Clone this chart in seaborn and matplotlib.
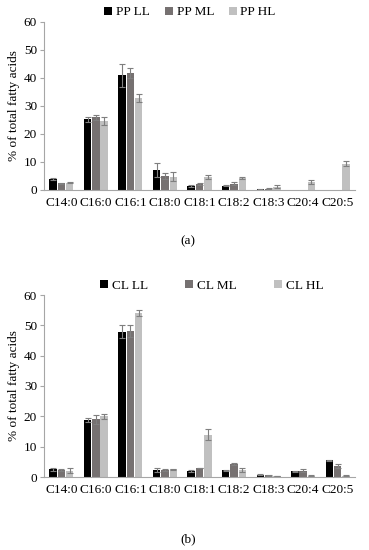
import pandas as pd
import numpy as np
import matplotlib
matplotlib.use('Agg')
import matplotlib.pyplot as plt
import seaborn as sns

# Yağ turşuları
acids = ['C14:0', 'C16:0', 'C16:1', 'C18:0', 'C18:1', 'C18:2', 'C18:3', 'C20:4', 'C20:5']

# (a) PP
pp_groups = ['PP LL', 'PP ML', 'PP HL']
pp_ll = [3.9, 25.2, 40.9, 7.2, 1.4, 1.6, 0.2, 0.0, 0.0]
pp_ml = [2.4, 25.9, 41.7, 5.1, 2.2, 2.3, 0.5, 0.0, 0.0]
pp_hl = [2.6, 24.7, 32.9, 4.8, 4.6, 4.3, 1.2, 2.9, 9.3]
pp_ll_err = [0.5, 0.8, 4.0, 2.5, 0.3, 0.3, 0.05, 0.0, 0.0]
pp_ml_err = [0.2, 0.8, 1.8, 1.0, 0.3, 0.6, 0.1, 0.0, 0.0]
pp_hl_err = [0.2, 1.5, 1.4, 1.6, 0.8, 0.3, 0.5, 0.7, 0.9]

# (b) CL
cl_groups = ['CL LL', 'CL ML', 'CL HL']
cl_ll = [2.5, 18.9, 47.9, 2.2, 2.0, 2.2, 0.8, 1.9, 5.5]
cl_ml = [2.3, 19.0, 48.0, 2.3, 3.0, 4.3, 0.6, 2.1, 3.6]
cl_hl = [2.1, 20.0, 54.0, 2.5, 14.0, 2.3, 0.3, 0.4, 0.4]
cl_ll_err = [0.4, 0.7, 2.1, 0.7, 0.2, 0.2, 0.1, 0.1, 0.2]
cl_ml_err = [0.2, 1.4, 2.0, 0.2, 0.1, 0.3, 0.2, 0.6, 0.6]
cl_hl_err = [0.8, 0.8, 1.0, 0.2, 1.8, 0.6, 0.05, 0.1, 0.1]

colors = ['#000000', '#767171', '#c0c0c0']

plt.rcParams['font.family'] = ['Liberation Serif', 'DejaVu Serif']
fs = 9.5


def long_df(groups, series):
    rows = []
    for g, vals in zip(groups, series):
        for a, v in zip(acids, vals):
            rows.append({'acid': a, 'group': g, 'value': v})
    return pd.DataFrame(rows)


def draw_panel(ax, groups, series, errors, colspacing, anchor_x):
    df = long_df(groups, series)
    sns.barplot(data=df, x='acid', y='value', hue='group', palette=colors,
                errorbar=None, width=0.72, gap=0.1, ax=ax, saturation=1)
    # Xəta xətləri
    for cont, errs in zip(ax.containers, errors):
        for bar, e in zip(cont, errs):
            if e <= 0:
                continue
            xc = bar.get_x() + bar.get_width() / 2
            ax.errorbar(xc, bar.get_height(), yerr=e, fmt='none',
                        ecolor='#7f7f7f', elinewidth=0.8, capsize=2, capthick=0.8)
    ax.set_ylim(0, 60)
    ax.set_yticks(range(0, 61, 10))
    ax.set_xlim(-0.5, 8.5)
    ax.set_xlabel('')
    ax.set_ylabel('% of total fatty acids', fontsize=fs, labelpad=3)
    ax.tick_params(axis='x', length=0, labelsize=fs, pad=5)
    ax.tick_params(axis='y', length=3, labelsize=fs, color='#a6a6a6', pad=2)
    for s in ['top', 'right']:
        ax.spines[s].set_visible(False)
    for s in ['left', 'bottom']:
        ax.spines[s].set_color('#a6a6a6')
        ax.spines[s].set_linewidth(0.8)
    ax.legend(loc='lower center', bbox_to_anchor=(anchor_x, 0.99), ncol=3, frameon=False,
              fontsize=fs, handlelength=0.6, handleheight=0.6, handletextpad=0.3,
              columnspacing=colspacing, borderaxespad=0)


fig = plt.figure(figsize=(3.69, 5.5), dpi=100)
ax1 = fig.add_axes([44 / 369, (550 - 190) / 550, 311 / 369, 168 / 550])
ax2 = fig.add_axes([44 / 369, (550 - 477) / 550, 311 / 369, 182 / 550])

draw_panel(ax1, pp_groups, [pp_ll, pp_ml, pp_hl], [pp_ll_err, pp_ml_err, pp_hl_err], 1.1, 0.47)
draw_panel(ax2, cl_groups, [cl_ll, cl_ml, cl_hl], [cl_ll_err, cl_ml_err, cl_hl_err], 2.8, 0.54)

fig.text(188 / 369, 1 - 241 / 550, '(a)', ha='center', va='center', fontsize=fs)
fig.text(188 / 369, 1 - 539 / 550, '(b)', ha='center', va='center', fontsize=fs)

fig.savefig('out.png', dpi=100)
